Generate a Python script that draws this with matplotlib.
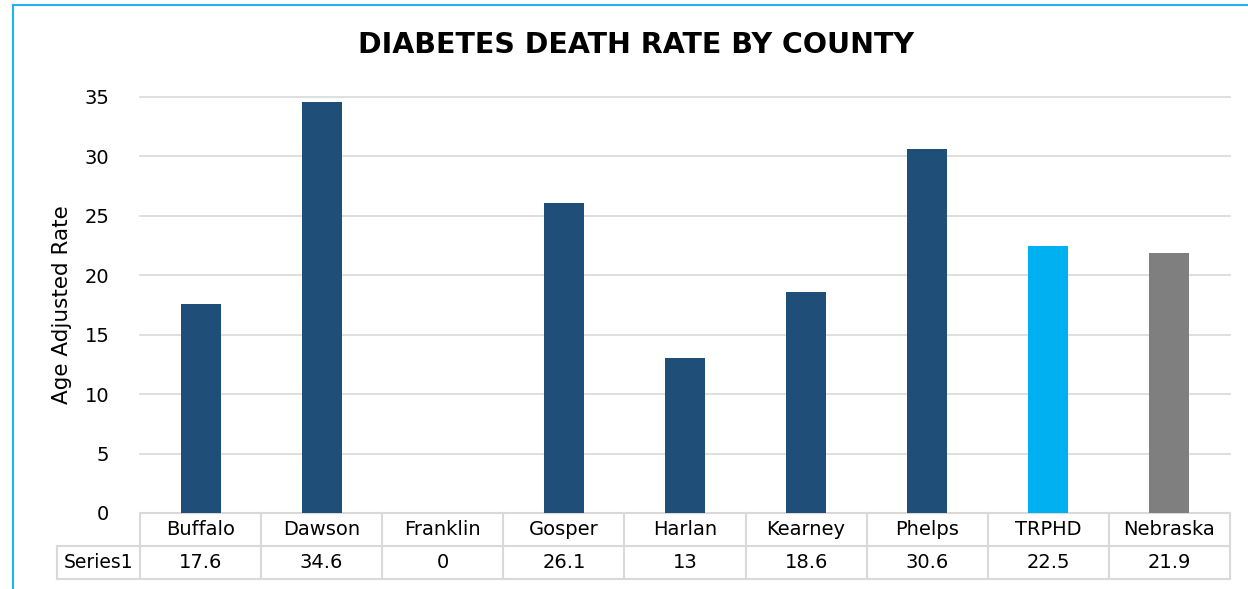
import matplotlib.pyplot as plt
from matplotlib.lines import Line2D
from matplotlib.transforms import blended_transform_factory

plt.rcParams['font.family'] = ['DejaVu Sans']

counties = ['Buffalo', 'Dawson', 'Franklin', 'Gosper', 'Harlan', 'Kearney', 'Phelps', 'TRPHD', 'Nebraska']
rates = [17.6, 34.6, 0, 26.1, 13, 18.6, 30.6, 22.5, 21.9]
rate_labels = ['17.6', '34.6', '0', '26.1', '13', '18.6', '30.6', '22.5', '21.9']
bar_colors = ['#1F4E79'] * 7 + ['#00B0F0', '#7F7F7F']

W, H = 1248, 589
fig = plt.figure(figsize=(W / 100, H / 100), dpi=100)
ax = fig.add_axes([140 / W, 1 - 513 / H, (1230 - 140) / W, (513 - 97) / H])

x = list(range(len(counties)))
ax.bar(x, rates, width=0.33, color=bar_colors, zorder=3)
ax.set_xlim(-0.5, len(counties) - 0.5)
ax.set_ylim(0, 35)
ax.set_yticks(range(0, 36, 5))
ax.tick_params(axis='y', length=0, labelsize=14, pad=22)
ax.set_xticks([])
ax.grid(axis='y', color='#D9D9D9', linewidth=1.2, zorder=0)
for gl in ax.get_ygridlines():
    gl.set_clip_on(False)
for s in ax.spines.values():
    s.set_visible(False)
ax.set_ylabel('Age Adjusted Rate', fontsize=15.5, labelpad=9)

# data table below the axis
trans = blended_transform_factory(ax.transData, ax.transAxes)
row_h = 33 / 416
lc = '#D9D9D9'
lw = 1.5
kw = dict(transform=trans, color=lc, linewidth=lw, clip_on=False)
ax.add_line(Line2D([-0.5, 8.5], [0, 0], **kw))
ax.add_line(Line2D([-0.5, 8.5], [-row_h, -row_h], **kw))
ax.add_line(Line2D([-0.5, 8.5], [-2 * row_h, -2 * row_h], **kw))
label_left = -0.5 - 83 / 121
ax.add_line(Line2D([label_left, -0.5], [-row_h, -row_h], **kw))
ax.add_line(Line2D([label_left, -0.5], [-2 * row_h, -2 * row_h], **kw))
ax.add_line(Line2D([label_left, label_left], [-row_h, -2 * row_h], **kw))
for i in range(len(counties) + 1):
    ax.add_line(Line2D([i - 0.5, i - 0.5], [0, -2 * row_h], **kw))
for i, (c, v) in enumerate(zip(counties, rate_labels)):
    ax.text(i, -row_h / 2, c, transform=trans, ha='center', va='center', fontsize=14)
    ax.text(i, -1.5 * row_h, v, transform=trans, ha='center', va='center', fontsize=14)
ax.text((label_left - 0.5) / 2, -1.5 * row_h, 'Series1', transform=trans,
        ha='center', va='center', fontsize=13.5)

fig.text(636 / W, 1 - 45 / H, 'DIABETES DEATH RATE BY COUNTY', ha='center', va='center',
         fontsize=20.5, fontweight='bold')

# chart border
fig.add_artist(Line2D([13 / W, 13 / W], [0, 1 - 5 / H], color='#1FB4F0', linewidth=1.5,
                      transform=fig.transFigure))
fig.add_artist(Line2D([13 / W, 1], [1 - 5 / H, 1 - 5 / H], color='#1FB4F0', linewidth=1.5,
                      transform=fig.transFigure))

fig.savefig('out.png', dpi=100)
